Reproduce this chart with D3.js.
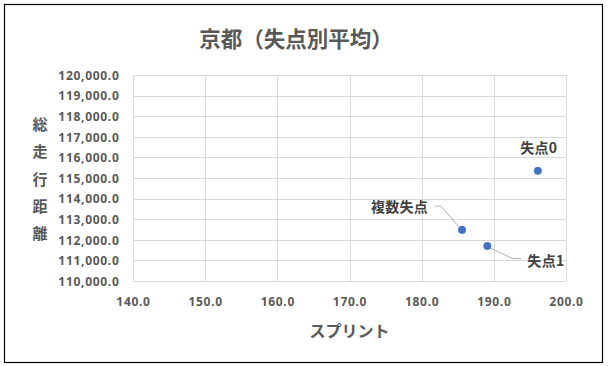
<!DOCTYPE html>
<html><head><meta charset="utf-8">
<script src="https://cdn.jsdelivr.net/npm/d3@7"></script>
<style>
html,body{margin:0;padding:0;background:#fff;}
svg{display:block;}
</style></head>
<body>
<svg id="chart" width="608" height="366"></svg>
<script>
// ---- data ----
const pointNames = ["失点0", "複数失点", "失点1"];
const sprint = [196.1, 185.6, 189.1];
const distance = [115350, 112480, 111700];
const xTicks = [140, 150, 160, 170, 180, 190, 200];
const yTicks = [110000, 111000, 112000, 113000, 114000, 115000, 116000, 117000, 118000, 119000, 120000];
const chartTitle = "京都（失点別平均）";
const xTitle = "スプリント";
const yTitle = "総走行距離";

// ---- layout (label placement relative to point) ----
const labelLayout = [
  {dx: 1, dy: -23.5, anchor: "middle", leader: null},
  {dx: -34, dy: -23.5, anchor: "end", leader: [[-27, -23.7], [-21, -23.7], [-3, -3]]},
  {dx: 40, dy: 13.6, anchor: "start", leader: [[3, 2], [25.3, 12.6], [33.7, 12.6]]}
];

const svg = d3.select("#chart");
const cjk = "'Noto Sans CJK JP', 'Noto Sans', sans-serif";
const num = "'Noto Sans', 'Liberation Sans', sans-serif";
const gray = "#595959";

svg.append("rect").attr("x", 0).attr("y", 0).attr("width", 608).attr("height", 366).attr("fill", "#fff");
svg.append("rect").attr("x", 4.5).attr("y", 4.5).attr("width", 598).attr("height", 358)
  .attr("fill", "none").attr("stroke", "#000").attr("stroke-width", 1.2);

const x = d3.scaleLinear().domain([140, 200]).range([133, 566]);
const y = d3.scaleLinear().domain([110000, 120000]).range([281, 75]);

// gridlines
svg.append("g").selectAll("line").data(yTicks).join("line")
  .attr("x1", x(140)).attr("x2", x(200))
  .attr("y1", d => Math.round(y(d)) + 0.5).attr("y2", d => Math.round(y(d)) + 0.5)
  .attr("stroke", "#d9d9d9").attr("stroke-width", 1);
svg.append("g").selectAll("line").data(xTicks).join("line")
  .attr("y1", y(110000)).attr("y2", y(120000))
  .attr("x1", d => Math.round(x(d)) + 0.5).attr("x2", d => Math.round(x(d)) + 0.5)
  .attr("stroke", "#d9d9d9").attr("stroke-width", 1);

// axes
const fmt = d3.format(",.1f");
const yAxis = svg.append("g").attr("transform", `translate(${x(140)},0)`)
  .call(d3.axisLeft(y).tickValues(yTicks).tickFormat(fmt).tickSize(0).tickPadding(13.5));
yAxis.select(".domain").remove();
yAxis.selectAll("text").attr("font-family", num).attr("font-weight", "bold").attr("font-size", 12)
  .attr("letter-spacing", "0.7px").attr("fill", gray).attr("dy", "0.35em");

const xAxis = svg.append("g").attr("transform", `translate(0,${y(110000)})`)
  .call(d3.axisBottom(x).tickValues(xTicks).tickFormat(fmt).tickSize(0));
xAxis.select(".domain").remove();
xAxis.selectAll("text").attr("font-family", num).attr("font-weight", "bold").attr("font-size", 12)
  .attr("letter-spacing", "0.7px").attr("fill", gray).attr("y", 21).attr("dy", "0.35em");

// titles
svg.append("text").attr("x", 296).attr("y", 37).attr("text-anchor", "middle")
  .attr("dominant-baseline", "central")
  .attr("font-family", cjk).attr("font-weight", "bold").attr("font-size", 21.5).attr("fill", gray)
  .text(chartTitle);

svg.append("text").attr("x", (x(140) + x(200)) / 2).attr("y", 330).attr("text-anchor", "middle")
  .attr("dominant-baseline", "central")
  .attr("font-family", cjk).attr("font-weight", "bold").attr("font-size", 16).attr("fill", gray)
  .text(xTitle);

svg.append("g").selectAll("text").data(Array.from(yTitle)).join("text")
  .attr("x", 40).attr("y", (d, i) => 123.5 + i * 27.3).attr("text-anchor", "middle")
  .attr("dominant-baseline", "central")
  .attr("font-family", cjk).attr("font-weight", "bold").attr("font-size", 15).attr("fill", gray)
  .text(d => d);

// points
const pts = pointNames.map((n, i) => ({name: n, px: x(sprint[i]), py: y(distance[i]), lay: labelLayout[i]}));

// leader lines
const lineGen = d3.line();
svg.append("g").selectAll("path").data(pts.filter(p => p.lay.leader)).join("path")
  .attr("d", p => lineGen(p.lay.leader.map(([a, b]) => [p.px + a, p.py + b])))
  .attr("fill", "none").attr("stroke", "#a6a6a6").attr("stroke-width", 0.9);

svg.append("g").selectAll("circle").data(pts).join("circle")
  .attr("cx", p => p.px).attr("cy", p => p.py).attr("r", 3.8)
  .attr("fill", "#4472c4").attr("stroke", "#4472c4").attr("stroke-width", 0.5);

svg.append("g").selectAll("text").data(pts).join("text")
  .attr("x", p => p.px + p.lay.dx).attr("y", p => p.py + p.lay.dy)
  .attr("text-anchor", p => p.lay.anchor).attr("dominant-baseline", "central")
  .attr("font-family", cjk).attr("font-weight", "bold").attr("font-size", 14)
  .attr("letter-spacing", "0.3px").attr("fill", "#404040")
  .text(p => p.name);
</script>
</body></html>
